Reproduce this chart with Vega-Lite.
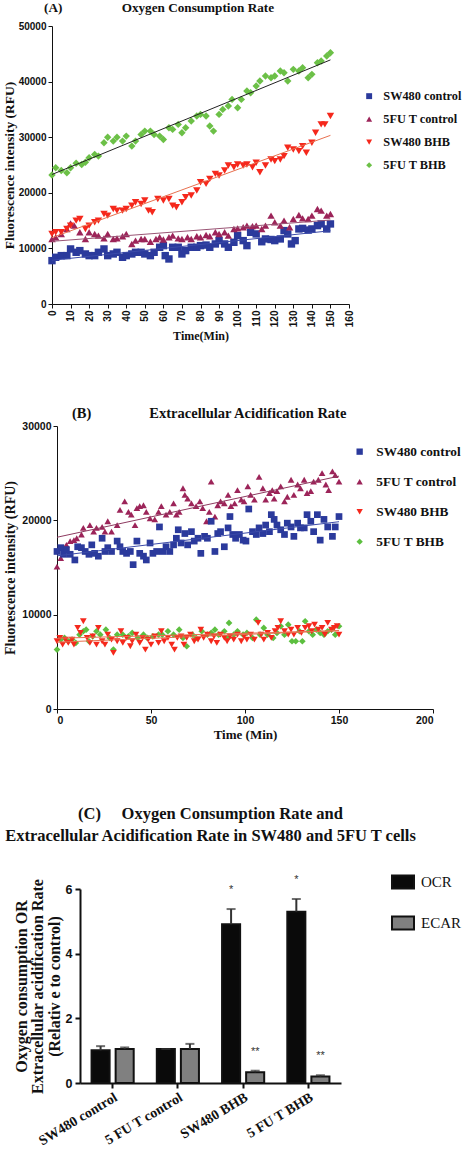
{
"$schema": "https://vega.github.io/schema/vega-lite/v6.json",
"padding": {"left": 2, "top": 0, "right": 0, "bottom": 0},
"background": "white",
"spacing": 63,
"resolve": {"scale": {"color": "independent", "shape": "independent", "stroke": "independent"}, "legend": {"color": "independent", "shape": "independent"}},
"config": {
  "view": {"stroke": null},
  "axis": {"grid": false, "domainColor": "#111", "tickColor": "#111", "labelColor": "#111", "titleColor": "#111", "labelFont": "Liberation Sans Narrow, Liberation Sans, Arial", "labelFontWeight": "bold", "titleFont": "Liberation Serif", "titleFontWeight": "bold"},
  "legend": {"labelFont": "Liberation Serif", "labelFontWeight": "bold", "labelColor": "#111", "labelLimit": 0},
  "title": {"font": "Liberation Serif", "fontWeight": "bold", "color": "#111"}
},
"datasets": {
"ocr": [
{"s":"SW480 control","t":0,"v":7800},{"s":"SW480 control","t":2,"v":8400},{"s":"SW480 control","t":5,"v":8700},{"s":"SW480 control","t":8,"v":8700},{"s":"SW480 control","t":10,"v":9900},{"s":"SW480 control","t":13,"v":9300},{"s":"SW480 control","t":15,"v":9600},{"s":"SW480 control","t":18,"v":9000},{"s":"SW480 control","t":20,"v":8700},{"s":"SW480 control","t":23,"v":8700},{"s":"SW480 control","t":25,"v":9300},{"s":"SW480 control","t":28,"v":9900},{"s":"SW480 control","t":30,"v":8700},{"s":"SW480 control","t":33,"v":9000},{"s":"SW480 control","t":35,"v":9300},{"s":"SW480 control","t":38,"v":8400},{"s":"SW480 control","t":40,"v":8700},{"s":"SW480 control","t":43,"v":9000},{"s":"SW480 control","t":45,"v":9300},{"s":"SW480 control","t":48,"v":9300},{"s":"SW480 control","t":50,"v":9000},{"s":"SW480 control","t":53,"v":8700},{"s":"SW480 control","t":55,"v":9300},{"s":"SW480 control","t":58,"v":10200},{"s":"SW480 control","t":60,"v":10500},{"s":"SW480 control","t":61,"v":8700},{"s":"SW480 control","t":63,"v":8100},{"s":"SW480 control","t":65,"v":10200},{"s":"SW480 control","t":68,"v":10200},{"s":"SW480 control","t":70,"v":9000},{"s":"SW480 control","t":72,"v":9600},{"s":"SW480 control","t":75,"v":10200},{"s":"SW480 control","t":78,"v":10200},{"s":"SW480 control","t":80,"v":10500},{"s":"SW480 control","t":83,"v":10600},{"s":"SW480 control","t":85,"v":10200},{"s":"SW480 control","t":88,"v":10800},{"s":"SW480 control","t":90,"v":11400},{"s":"SW480 control","t":93,"v":10800},{"s":"SW480 control","t":95,"v":10200},{"s":"SW480 control","t":98,"v":11100},{"s":"SW480 control","t":100,"v":12300},{"s":"SW480 control","t":103,"v":11400},{"s":"SW480 control","t":105,"v":10500},{"s":"SW480 control","t":107,"v":12900},{"s":"SW480 control","t":110,"v":12600},{"s":"SW480 control","t":113,"v":11200},{"s":"SW480 control","t":115,"v":11700},{"s":"SW480 control","t":118,"v":11600},{"s":"SW480 control","t":120,"v":11400},{"s":"SW480 control","t":123,"v":11700},{"s":"SW480 control","t":125,"v":13200},{"s":"SW480 control","t":127,"v":12600},{"s":"SW480 control","t":129,"v":10800},{"s":"SW480 control","t":131,"v":11400},{"s":"SW480 control","t":133,"v":13500},{"s":"SW480 control","t":135,"v":13600},{"s":"SW480 control","t":138,"v":13300},{"s":"SW480 control","t":140,"v":13500},{"s":"SW480 control","t":143,"v":14100},{"s":"SW480 control","t":145,"v":14400},{"s":"SW480 control","t":148,"v":13500},{"s":"SW480 control","t":150,"v":14400},
{"s":"5FU T control","t":0,"v":11700},{"s":"5FU T control","t":2,"v":12000},{"s":"5FU T control","t":5,"v":12600},{"s":"5FU T control","t":8,"v":13500},{"s":"5FU T control","t":10,"v":14500},{"s":"5FU T control","t":12,"v":14100},{"s":"5FU T control","t":15,"v":12900},{"s":"5FU T control","t":18,"v":11700},{"s":"5FU T control","t":20,"v":12900},{"s":"5FU T control","t":23,"v":12600},{"s":"5FU T control","t":25,"v":12300},{"s":"5FU T control","t":28,"v":11800},{"s":"5FU T control","t":30,"v":12600},{"s":"5FU T control","t":33,"v":11700},{"s":"5FU T control","t":35,"v":11800},{"s":"5FU T control","t":38,"v":12200},{"s":"5FU T control","t":40,"v":12600},{"s":"5FU T control","t":43,"v":10800},{"s":"5FU T control","t":45,"v":11400},{"s":"5FU T control","t":48,"v":11700},{"s":"5FU T control","t":50,"v":11700},{"s":"5FU T control","t":53,"v":11200},{"s":"5FU T control","t":56,"v":11700},{"s":"5FU T control","t":58,"v":12000},{"s":"5FU T control","t":60,"v":11600},{"s":"5FU T control","t":63,"v":12000},{"s":"5FU T control","t":65,"v":12300},{"s":"5FU T control","t":68,"v":11800},{"s":"5FU T control","t":70,"v":11700},{"s":"5FU T control","t":73,"v":12000},{"s":"5FU T control","t":75,"v":11700},{"s":"5FU T control","t":78,"v":12200},{"s":"5FU T control","t":80,"v":12000},{"s":"5FU T control","t":83,"v":12400},{"s":"5FU T control","t":85,"v":12200},{"s":"5FU T control","t":88,"v":12900},{"s":"5FU T control","t":90,"v":12600},{"s":"5FU T control","t":93,"v":12900},{"s":"5FU T control","t":95,"v":12300},{"s":"5FU T control","t":98,"v":13500},{"s":"5FU T control","t":100,"v":13600},{"s":"5FU T control","t":103,"v":13800},{"s":"5FU T control","t":105,"v":14100},{"s":"5FU T control","t":108,"v":14000},{"s":"5FU T control","t":110,"v":14100},{"s":"5FU T control","t":113,"v":13500},{"s":"5FU T control","t":115,"v":14100},{"s":"5FU T control","t":118,"v":15900},{"s":"5FU T control","t":120,"v":14700},{"s":"5FU T control","t":123,"v":14100},{"s":"5FU T control","t":125,"v":15000},{"s":"5FU T control","t":128,"v":13800},{"s":"5FU T control","t":130,"v":15300},{"s":"5FU T control","t":133,"v":16000},{"s":"5FU T control","t":135,"v":15400},{"s":"5FU T control","t":138,"v":15300},{"s":"5FU T control","t":140,"v":15900},{"s":"5FU T control","t":143,"v":17100},{"s":"5FU T control","t":145,"v":16800},{"s":"5FU T control","t":148,"v":15900},{"s":"5FU T control","t":150,"v":16200},
{"s":"SW480 BHB","t":0,"v":12600},{"s":"SW480 BHB","t":2,"v":12900},{"s":"SW480 BHB","t":5,"v":12900},{"s":"SW480 BHB","t":8,"v":13500},{"s":"SW480 BHB","t":10,"v":14100},{"s":"SW480 BHB","t":13,"v":15000},{"s":"SW480 BHB","t":15,"v":15300},{"s":"SW480 BHB","t":18,"v":13500},{"s":"SW480 BHB","t":20,"v":14100},{"s":"SW480 BHB","t":23,"v":14700},{"s":"SW480 BHB","t":25,"v":15000},{"s":"SW480 BHB","t":28,"v":16200},{"s":"SW480 BHB","t":30,"v":15900},{"s":"SW480 BHB","t":33,"v":17100},{"s":"SW480 BHB","t":35,"v":16800},{"s":"SW480 BHB","t":38,"v":16800},{"s":"SW480 BHB","t":40,"v":17100},{"s":"SW480 BHB","t":43,"v":17700},{"s":"SW480 BHB","t":45,"v":18300},{"s":"SW480 BHB","t":48,"v":18000},{"s":"SW480 BHB","t":50,"v":18600},{"s":"SW480 BHB","t":52,"v":16800},{"s":"SW480 BHB","t":54,"v":16500},{"s":"SW480 BHB","t":57,"v":18900},{"s":"SW480 BHB","t":60,"v":18600},{"s":"SW480 BHB","t":63,"v":18900},{"s":"SW480 BHB","t":65,"v":17700},{"s":"SW480 BHB","t":67,"v":17400},{"s":"SW480 BHB","t":70,"v":18300},{"s":"SW480 BHB","t":72,"v":19200},{"s":"SW480 BHB","t":75,"v":19500},{"s":"SW480 BHB","t":78,"v":20400},{"s":"SW480 BHB","t":80,"v":21900},{"s":"SW480 BHB","t":83,"v":21600},{"s":"SW480 BHB","t":85,"v":22500},{"s":"SW480 BHB","t":88,"v":23400},{"s":"SW480 BHB","t":90,"v":23100},{"s":"SW480 BHB","t":93,"v":24000},{"s":"SW480 BHB","t":95,"v":24900},{"s":"SW480 BHB","t":98,"v":24600},{"s":"SW480 BHB","t":100,"v":25100},{"s":"SW480 BHB","t":103,"v":24900},{"s":"SW480 BHB","t":105,"v":25100},{"s":"SW480 BHB","t":108,"v":24600},{"s":"SW480 BHB","t":110,"v":25400},{"s":"SW480 BHB","t":112,"v":23700},{"s":"SW480 BHB","t":115,"v":24900},{"s":"SW480 BHB","t":118,"v":26000},{"s":"SW480 BHB","t":120,"v":25700},{"s":"SW480 BHB","t":123,"v":26000},{"s":"SW480 BHB","t":125,"v":26600},{"s":"SW480 BHB","t":127,"v":28100},{"s":"SW480 BHB","t":130,"v":27800},{"s":"SW480 BHB","t":133,"v":27500},{"s":"SW480 BHB","t":135,"v":28400},{"s":"SW480 BHB","t":137,"v":27200},{"s":"SW480 BHB","t":140,"v":29000},{"s":"SW480 BHB","t":142,"v":30800},{"s":"SW480 BHB","t":145,"v":32300},{"s":"SW480 BHB","t":147,"v":32300},{"s":"SW480 BHB","t":150,"v":33800},
{"s":"5FU T BHB","t":0,"v":23200},{"s":"5FU T BHB","t":2,"v":24500},{"s":"5FU T BHB","t":5,"v":24000},{"s":"5FU T BHB","t":8,"v":23600},{"s":"5FU T BHB","t":10,"v":24500},{"s":"5FU T BHB","t":13,"v":25300},{"s":"5FU T BHB","t":16,"v":25100},{"s":"5FU T BHB","t":18,"v":25500},{"s":"5FU T BHB","t":20,"v":26300},{"s":"5FU T BHB","t":23,"v":26900},{"s":"5FU T BHB","t":25,"v":26600},{"s":"5FU T BHB","t":28,"v":29000},{"s":"5FU T BHB","t":30,"v":30000},{"s":"5FU T BHB","t":33,"v":29300},{"s":"5FU T BHB","t":35,"v":30000},{"s":"5FU T BHB","t":38,"v":29300},{"s":"5FU T BHB","t":40,"v":30200},{"s":"5FU T BHB","t":43,"v":28400},{"s":"5FU T BHB","t":45,"v":29300},{"s":"5FU T BHB","t":48,"v":30500},{"s":"5FU T BHB","t":50,"v":31100},{"s":"5FU T BHB","t":53,"v":31100},{"s":"5FU T BHB","t":55,"v":30500},{"s":"5FU T BHB","t":58,"v":30200},{"s":"5FU T BHB","t":60,"v":29600},{"s":"5FU T BHB","t":63,"v":31700},{"s":"5FU T BHB","t":65,"v":31400},{"s":"5FU T BHB","t":68,"v":32300},{"s":"5FU T BHB","t":70,"v":30800},{"s":"5FU T BHB","t":72,"v":31700},{"s":"5FU T BHB","t":75,"v":32900},{"s":"5FU T BHB","t":78,"v":33800},{"s":"5FU T BHB","t":80,"v":34100},{"s":"5FU T BHB","t":83,"v":33800},{"s":"5FU T BHB","t":85,"v":32000},{"s":"5FU T BHB","t":87,"v":31100},{"s":"5FU T BHB","t":90,"v":34100},{"s":"5FU T BHB","t":92,"v":35000},{"s":"5FU T BHB","t":95,"v":35600},{"s":"5FU T BHB","t":97,"v":36800},{"s":"5FU T BHB","t":100,"v":35300},{"s":"5FU T BHB","t":102,"v":36800},{"s":"5FU T BHB","t":105,"v":38300},{"s":"5FU T BHB","t":107,"v":38000},{"s":"5FU T BHB","t":110,"v":39200},{"s":"5FU T BHB","t":112,"v":40100},{"s":"5FU T BHB","t":115,"v":41000},{"s":"5FU T BHB","t":118,"v":40700},{"s":"5FU T BHB","t":120,"v":41000},{"s":"5FU T BHB","t":123,"v":41900},{"s":"5FU T BHB","t":125,"v":41600},{"s":"5FU T BHB","t":127,"v":40100},{"s":"5FU T BHB","t":130,"v":42200},{"s":"5FU T BHB","t":133,"v":41900},{"s":"5FU T BHB","t":135,"v":42500},{"s":"5FU T BHB","t":138,"v":40700},{"s":"5FU T BHB","t":140,"v":41300},{"s":"5FU T BHB","t":143,"v":43400},{"s":"5FU T BHB","t":145,"v":43700},{"s":"5FU T BHB","t":148,"v":44600},{"s":"5FU T BHB","t":150,"v":45200}
],
"ecar": [
{"s":"5FU T control","t":0,"v":15100},{"s":"5FU T control","t":2,"v":16000},{"s":"5FU T control","t":3.5,"v":17100},{"s":"5FU T control","t":5,"v":17400},{"s":"5FU T control","t":7,"v":17800},{"s":"5FU T control","t":9,"v":17900},{"s":"5FU T control","t":10.5,"v":18100},{"s":"5FU T control","t":13,"v":18500},{"s":"5FU T control","t":14,"v":19200},{"s":"5FU T control","t":17.5,"v":19500},{"s":"5FU T control","t":19.5,"v":18800},{"s":"5FU T control","t":21,"v":19200},{"s":"5FU T control","t":24,"v":19300},{"s":"5FU T control","t":25.5,"v":18800},{"s":"5FU T control","t":27,"v":19900},{"s":"5FU T control","t":29,"v":18800},{"s":"5FU T control","t":32,"v":19500},{"s":"5FU T control","t":33.5,"v":21100},{"s":"5FU T control","t":36,"v":22000},{"s":"5FU T control","t":38,"v":20900},{"s":"5FU T control","t":39.5,"v":20600},{"s":"5FU T control","t":41.5,"v":19500},{"s":"5FU T control","t":42.5,"v":21300},{"s":"5FU T control","t":44,"v":21500},{"s":"5FU T control","t":46,"v":21600},{"s":"5FU T control","t":47.5,"v":20900},{"s":"5FU T control","t":49.5,"v":20200},{"s":"5FU T control","t":52,"v":20100},{"s":"5FU T control","t":54,"v":20900},{"s":"5FU T control","t":55.5,"v":21500},{"s":"5FU T control","t":58,"v":20600},{"s":"5FU T control","t":60,"v":20900},{"s":"5FU T control","t":62,"v":21800},{"s":"5FU T control","t":63.5,"v":20600},{"s":"5FU T control","t":65,"v":20900},{"s":"5FU T control","t":67,"v":23400},{"s":"5FU T control","t":68,"v":22700},{"s":"5FU T control","t":69.5,"v":22300},{"s":"5FU T control","t":71.5,"v":21800},{"s":"5FU T control","t":74,"v":21500},{"s":"5FU T control","t":76,"v":22000},{"s":"5FU T control","t":77.5,"v":21300},{"s":"5FU T control","t":79.5,"v":19900},{"s":"5FU T control","t":81,"v":20900},{"s":"5FU T control","t":82,"v":24100},{"s":"5FU T control","t":84,"v":20400},{"s":"5FU T control","t":85.5,"v":21600},{"s":"5FU T control","t":87,"v":22000},{"s":"5FU T control","t":89,"v":21800},{"s":"5FU T control","t":91,"v":22700},{"s":"5FU T control","t":92.5,"v":21500},{"s":"5FU T control","t":94.5,"v":21800},{"s":"5FU T control","t":96,"v":23200},{"s":"5FU T control","t":98,"v":22200},{"s":"5FU T control","t":99.5,"v":22000},{"s":"5FU T control","t":101.5,"v":23600},{"s":"5FU T control","t":103,"v":22700},{"s":"5FU T control","t":105,"v":22200},{"s":"5FU T control","t":107.5,"v":24600},{"s":"5FU T control","t":109.5,"v":23400},{"s":"5FU T control","t":111,"v":22200},{"s":"5FU T control","t":113,"v":22900},{"s":"5FU T control","t":114.5,"v":23200},{"s":"5FU T control","t":115.5,"v":22300},{"s":"5FU T control","t":117,"v":23100},{"s":"5FU T control","t":119,"v":23600},{"s":"5FU T control","t":121,"v":22000},{"s":"5FU T control","t":122.5,"v":22500},{"s":"5FU T control","t":124.5,"v":24300},{"s":"5FU T control","t":126,"v":22700},{"s":"5FU T control","t":128,"v":23800},{"s":"5FU T control","t":129.5,"v":23400},{"s":"5FU T control","t":131.5,"v":24300},{"s":"5FU T control","t":133,"v":22900},{"s":"5FU T control","t":135,"v":23100},{"s":"5FU T control","t":136.5,"v":24100},{"s":"5FU T control","t":139,"v":24300},{"s":"5FU T control","t":141,"v":25000},{"s":"5FU T control","t":143,"v":23800},{"s":"5FU T control","t":144.5,"v":23200},{"s":"5FU T control","t":146.5,"v":25200},{"s":"5FU T control","t":148,"v":24800},{"s":"5FU T control","t":150,"v":24100},
{"s":"SW480 control","t":0,"v":16700},{"s":"SW480 control","t":2,"v":17100},{"s":"SW480 control","t":3.5,"v":16400},{"s":"SW480 control","t":5,"v":16900},{"s":"SW480 control","t":7,"v":16400},{"s":"SW480 control","t":9.5,"v":15800},{"s":"SW480 control","t":11,"v":17200},{"s":"SW480 control","t":13,"v":17100},{"s":"SW480 control","t":15,"v":16700},{"s":"SW480 control","t":17,"v":16400},{"s":"SW480 control","t":18.5,"v":17400},{"s":"SW480 control","t":20,"v":16500},{"s":"SW480 control","t":22,"v":16200},{"s":"SW480 control","t":24,"v":18100},{"s":"SW480 control","t":25.5,"v":16700},{"s":"SW480 control","t":27,"v":17100},{"s":"SW480 control","t":29,"v":16700},{"s":"SW480 control","t":32,"v":17800},{"s":"SW480 control","t":33.5,"v":17200},{"s":"SW480 control","t":35,"v":16700},{"s":"SW480 control","t":37,"v":16500},{"s":"SW480 control","t":39,"v":16700},{"s":"SW480 control","t":40.5,"v":15300},{"s":"SW480 control","t":42.5,"v":17800},{"s":"SW480 control","t":44,"v":16500},{"s":"SW480 control","t":46,"v":16200},{"s":"SW480 control","t":47.5,"v":15800},{"s":"SW480 control","t":49.5,"v":17600},{"s":"SW480 control","t":51,"v":16500},{"s":"SW480 control","t":53,"v":16700},{"s":"SW480 control","t":54.5,"v":19300},{"s":"SW480 control","t":56.5,"v":16700},{"s":"SW480 control","t":58,"v":17200},{"s":"SW480 control","t":60,"v":16700},{"s":"SW480 control","t":62,"v":17400},{"s":"SW480 control","t":63.5,"v":18100},{"s":"SW480 control","t":64.5,"v":19000},{"s":"SW480 control","t":66,"v":17600},{"s":"SW480 control","t":68,"v":18600},{"s":"SW480 control","t":69.5,"v":17400},{"s":"SW480 control","t":71.5,"v":18800},{"s":"SW480 control","t":73,"v":17800},{"s":"SW480 control","t":75,"v":18100},{"s":"SW480 control","t":76.5,"v":16500},{"s":"SW480 control","t":78.5,"v":18300},{"s":"SW480 control","t":80,"v":18100},{"s":"SW480 control","t":82,"v":19900},{"s":"SW480 control","t":84,"v":16700},{"s":"SW480 control","t":85.5,"v":18600},{"s":"SW480 control","t":87,"v":18800},{"s":"SW480 control","t":89,"v":17200},{"s":"SW480 control","t":91,"v":19200},{"s":"SW480 control","t":92,"v":20400},{"s":"SW480 control","t":93.5,"v":18500},{"s":"SW480 control","t":95,"v":18100},{"s":"SW480 control","t":97,"v":18500},{"s":"SW480 control","t":99,"v":17900},{"s":"SW480 control","t":100.5,"v":17800},{"s":"SW480 control","t":102,"v":21200},{"s":"SW480 control","t":104,"v":18800},{"s":"SW480 control","t":106,"v":18500},{"s":"SW480 control","t":107.5,"v":19200},{"s":"SW480 control","t":109.5,"v":18600},{"s":"SW480 control","t":111,"v":19500},{"s":"SW480 control","t":113,"v":18800},{"s":"SW480 control","t":114,"v":20600},{"s":"SW480 control","t":115.5,"v":20100},{"s":"SW480 control","t":117,"v":19500},{"s":"SW480 control","t":119,"v":19000},{"s":"SW480 control","t":121,"v":18500},{"s":"SW480 control","t":122.5,"v":19700},{"s":"SW480 control","t":124.5,"v":19300},{"s":"SW480 control","t":126,"v":18300},{"s":"SW480 control","t":128,"v":19700},{"s":"SW480 control","t":129.5,"v":19200},{"s":"SW480 control","t":131.5,"v":19200},{"s":"SW480 control","t":133,"v":20600},{"s":"SW480 control","t":135,"v":19900},{"s":"SW480 control","t":136.5,"v":18800},{"s":"SW480 control","t":138.5,"v":20600},{"s":"SW480 control","t":140,"v":17900},{"s":"SW480 control","t":142,"v":20100},{"s":"SW480 control","t":144,"v":19300},{"s":"SW480 control","t":146.5,"v":18300},{"s":"SW480 control","t":148,"v":19300},{"s":"SW480 control","t":150,"v":20400},
{"s":"5FU T BHB","t":0,"v":6300},{"s":"5FU T BHB","t":2,"v":7360},{"s":"5FU T BHB","t":4,"v":7530},{"s":"5FU T BHB","t":6,"v":7180},{"s":"5FU T BHB","t":8,"v":7360},{"s":"5FU T BHB","t":10,"v":7000},{"s":"5FU T BHB","t":12,"v":7880},{"s":"5FU T BHB","t":14,"v":8240},{"s":"5FU T BHB","t":15.5,"v":8410},{"s":"5FU T BHB","t":17,"v":7180},{"s":"5FU T BHB","t":19,"v":7700},{"s":"5FU T BHB","t":21,"v":8240},{"s":"5FU T BHB","t":23,"v":7880},{"s":"5FU T BHB","t":26,"v":8410},{"s":"5FU T BHB","t":28,"v":7530},{"s":"5FU T BHB","t":30,"v":6300},{"s":"5FU T BHB","t":32,"v":7880},{"s":"5FU T BHB","t":35,"v":7880},{"s":"5FU T BHB","t":38,"v":7700},{"s":"5FU T BHB","t":40,"v":8060},{"s":"5FU T BHB","t":43,"v":7530},{"s":"5FU T BHB","t":46,"v":7880},{"s":"5FU T BHB","t":48,"v":7530},{"s":"5FU T BHB","t":51,"v":7700},{"s":"5FU T BHB","t":54,"v":7880},{"s":"5FU T BHB","t":56,"v":7880},{"s":"5FU T BHB","t":59,"v":8240},{"s":"5FU T BHB","t":62,"v":7880},{"s":"5FU T BHB","t":65,"v":8410},{"s":"5FU T BHB","t":67,"v":7530},{"s":"5FU T BHB","t":69,"v":6650},{"s":"5FU T BHB","t":72,"v":7880},{"s":"5FU T BHB","t":74,"v":7530},{"s":"5FU T BHB","t":77,"v":8240},{"s":"5FU T BHB","t":80,"v":7880},{"s":"5FU T BHB","t":82,"v":8060},{"s":"5FU T BHB","t":84,"v":8410},{"s":"5FU T BHB","t":86,"v":7880},{"s":"5FU T BHB","t":89,"v":8240},{"s":"5FU T BHB","t":91,"v":7530},{"s":"5FU T BHB","t":91.5,"v":9120},{"s":"5FU T BHB","t":94,"v":7880},{"s":"5FU T BHB","t":96,"v":8240},{"s":"5FU T BHB","t":99,"v":7880},{"s":"5FU T BHB","t":101,"v":8060},{"s":"5FU T BHB","t":104,"v":7530},{"s":"5FU T BHB","t":106,"v":9470},{"s":"5FU T BHB","t":108,"v":7880},{"s":"5FU T BHB","t":110,"v":8590},{"s":"5FU T BHB","t":112,"v":7880},{"s":"5FU T BHB","t":115,"v":7530},{"s":"5FU T BHB","t":117,"v":8060},{"s":"5FU T BHB","t":119,"v":8770},{"s":"5FU T BHB","t":121,"v":7880},{"s":"5FU T BHB","t":123,"v":8940},{"s":"5FU T BHB","t":125,"v":7180},{"s":"5FU T BHB","t":127,"v":7180},{"s":"5FU T BHB","t":129,"v":8240},{"s":"5FU T BHB","t":130.5,"v":7180},{"s":"5FU T BHB","t":132,"v":9300},{"s":"5FU T BHB","t":134,"v":8240},{"s":"5FU T BHB","t":136,"v":7880},{"s":"5FU T BHB","t":138,"v":8410},{"s":"5FU T BHB","t":140,"v":8060},{"s":"5FU T BHB","t":142,"v":7880},{"s":"5FU T BHB","t":144,"v":8240},{"s":"5FU T BHB","t":146,"v":8410},{"s":"5FU T BHB","t":148,"v":7880},{"s":"5FU T BHB","t":150,"v":8770},
{"s":"SW480 BHB","t":0,"v":7180},{"s":"SW480 BHB","t":1.5,"v":7530},{"s":"SW480 BHB","t":3,"v":6830},{"s":"SW480 BHB","t":4.5,"v":7360},{"s":"SW480 BHB","t":6,"v":7000},{"s":"SW480 BHB","t":8,"v":7360},{"s":"SW480 BHB","t":9,"v":6830},{"s":"SW480 BHB","t":11,"v":8590},{"s":"SW480 BHB","t":12.5,"v":8060},{"s":"SW480 BHB","t":14,"v":9300},{"s":"SW480 BHB","t":16,"v":7530},{"s":"SW480 BHB","t":17.5,"v":7000},{"s":"SW480 BHB","t":19,"v":7700},{"s":"SW480 BHB","t":21,"v":6830},{"s":"SW480 BHB","t":22,"v":8590},{"s":"SW480 BHB","t":24,"v":7180},{"s":"SW480 BHB","t":25.5,"v":6830},{"s":"SW480 BHB","t":27,"v":7880},{"s":"SW480 BHB","t":29,"v":7360},{"s":"SW480 BHB","t":30,"v":5950},{"s":"SW480 BHB","t":32,"v":7180},{"s":"SW480 BHB","t":34,"v":8240},{"s":"SW480 BHB","t":35,"v":7000},{"s":"SW480 BHB","t":37,"v":7530},{"s":"SW480 BHB","t":39,"v":6650},{"s":"SW480 BHB","t":40,"v":7180},{"s":"SW480 BHB","t":42,"v":7880},{"s":"SW480 BHB","t":44,"v":7000},{"s":"SW480 BHB","t":45.5,"v":7530},{"s":"SW480 BHB","t":47,"v":6300},{"s":"SW480 BHB","t":48.5,"v":7360},{"s":"SW480 BHB","t":50,"v":6830},{"s":"SW480 BHB","t":52,"v":7700},{"s":"SW480 BHB","t":54,"v":7000},{"s":"SW480 BHB","t":55.5,"v":8240},{"s":"SW480 BHB","t":57,"v":7180},{"s":"SW480 BHB","t":59,"v":7530},{"s":"SW480 BHB","t":61,"v":6830},{"s":"SW480 BHB","t":62.5,"v":6300},{"s":"SW480 BHB","t":64,"v":7530},{"s":"SW480 BHB","t":66,"v":7700},{"s":"SW480 BHB","t":67.5,"v":6830},{"s":"SW480 BHB","t":69,"v":7530},{"s":"SW480 BHB","t":71,"v":7880},{"s":"SW480 BHB","t":73,"v":7180},{"s":"SW480 BHB","t":75,"v":7360},{"s":"SW480 BHB","t":76.5,"v":8410},{"s":"SW480 BHB","t":78,"v":7530},{"s":"SW480 BHB","t":80,"v":7880},{"s":"SW480 BHB","t":82,"v":7180},{"s":"SW480 BHB","t":83.5,"v":7700},{"s":"SW480 BHB","t":85,"v":7000},{"s":"SW480 BHB","t":87,"v":7880},{"s":"SW480 BHB","t":89,"v":7530},{"s":"SW480 BHB","t":90.5,"v":7180},{"s":"SW480 BHB","t":92,"v":7700},{"s":"SW480 BHB","t":94,"v":7360},{"s":"SW480 BHB","t":96,"v":7880},{"s":"SW480 BHB","t":98,"v":7180},{"s":"SW480 BHB","t":99.5,"v":7700},{"s":"SW480 BHB","t":101,"v":7360},{"s":"SW480 BHB","t":103,"v":7880},{"s":"SW480 BHB","t":105,"v":7360},{"s":"SW480 BHB","t":107,"v":9120},{"s":"SW480 BHB","t":108.5,"v":7880},{"s":"SW480 BHB","t":110,"v":7360},{"s":"SW480 BHB","t":112,"v":8060},{"s":"SW480 BHB","t":114,"v":7530},{"s":"SW480 BHB","t":116,"v":8240},{"s":"SW480 BHB","t":117.5,"v":8590},{"s":"SW480 BHB","t":119,"v":9300},{"s":"SW480 BHB","t":121,"v":8240},{"s":"SW480 BHB","t":123,"v":7880},{"s":"SW480 BHB","t":124.5,"v":8410},{"s":"SW480 BHB","t":126,"v":7880},{"s":"SW480 BHB","t":128,"v":8590},{"s":"SW480 BHB","t":130,"v":8060},{"s":"SW480 BHB","t":132,"v":8590},{"s":"SW480 BHB","t":134,"v":8770},{"s":"SW480 BHB","t":135.5,"v":8240},{"s":"SW480 BHB","t":137,"v":8940},{"s":"SW480 BHB","t":139,"v":8410},{"s":"SW480 BHB","t":141,"v":8590},{"s":"SW480 BHB","t":142.5,"v":7880},{"s":"SW480 BHB","t":144,"v":9120},{"s":"SW480 BHB","t":146,"v":8410},{"s":"SW480 BHB","t":147.5,"v":8590},{"s":"SW480 BHB","t":149,"v":8770},{"s":"SW480 BHB","t":150,"v":7880}
],
"bars": [
{"g":"SW480 control","m":"OCR","v":1.01,"hi":1.14,"sig":""},
{"g":"SW480 control","m":"ECAR","v":1.05,"hi":1.10,"sig":""},
{"g":"5 FU T control","m":"OCR","v":1.05,"hi":1.05,"sig":""},
{"g":"5 FU T control","m":"ECAR","v":1.05,"hi":1.21,"sig":""},
{"g":"SW480 BHB","m":"OCR","v":4.91,"hi":5.38,"sig":"*"},
{"g":"SW480 BHB","m":"ECAR","v":0.33,"hi":0.38,"sig":"**"},
{"g":"5 FU T BHB","m":"OCR","v":5.30,"hi":5.69,"sig":"*"},
{"g":"5 FU T BHB","m":"ECAR","v":0.20,"hi":0.24,"sig":"**"}
]
},
"vconcat": [
{
  "width": 297, "height": 278,
  "title": {"text": "(A)\u00a0\u00a0\u00a0\u00a0\u00a0\u00a0\u00a0\u00a0\u00a0\u00a0\u00a0\u00a0\u00a0\u00a0\u00a0\u00a0\u00a0\u00a0Oxygen Consumption Rate", "anchor": "start", "frame": "group", "dx": -36, "fontSize": 13.2, "offset": 6},
  "data": {"name": "ocr"},
  "encoding": {
    "x": {"field": "t", "type": "quantitative", "scale": {"domain": [0, 160], "range": [-28, 269]}, "axis": {"values": [0,10,20,30,40,50,60,70,80,90,100,110,120,130,140,150,160], "format": "d", "labelOverlap": false, "labelAngle": -90, "labelAlign": "right", "labelBaseline": "middle", "labelFontSize": 10, "labelPadding": 2, "tickSize": 4, "title": "Time(Min)", "titleFontSize": 12, "titlePadding": 4}},
    "y": {"field": "v", "type": "quantitative", "scale": {"domain": [0, 50000]}, "axis": {"values": [0,10000,20000,30000,40000,50000], "format": "d", "offset": 28, "labelFontSize": 10, "labelPadding": 2, "tickSize": 4, "title": "Fluorescence intensity (RFU)", "titleFontSize": 13.5, "titlePadding": 2}}
  },
  "layer": [
    {
      "mark": {"type": "point", "filled": true, "opacity": 1, "size": 55},
      "encoding": {
        "color": {"field": "s", "type": "nominal", "scale": {"domain": ["SW480 control","5FU T control","SW480 BHB","5FU T BHB"], "range": ["#2b3a9c","#9c2459","#f5281c","#6cc047"]}, "legend": {"title": null, "orient": "none", "legendX": 283, "legendY": 64, "labelFontSize": 12.3, "rowPadding": 10, "symbolSize": 35, "symbolStrokeWidth": 0, "padding": 0, "labelOffset": 8}},
        "shape": {"field": "s", "type": "nominal", "scale": {"domain": ["SW480 control","5FU T control","SW480 BHB","5FU T BHB"], "range": ["square","triangle-up","triangle-down","diamond"]}, "legend": {"title": null, "orient": "none", "legendX": 283, "legendY": 64, "labelFontSize": 12.3, "rowPadding": 10, "symbolSize": 35, "symbolStrokeWidth": 0, "padding": 0, "labelOffset": 8}}
      }
    },
    {
      "transform": [{"regression": "v", "on": "t", "groupby": ["s"]}],
      "mark": {"type": "line", "strokeWidth": 1},
      "encoding": {
        "stroke": {"field": "s", "type": "nominal", "scale": {"domain": ["SW480 control","5FU T control","SW480 BHB","5FU T BHB"], "range": ["#3b4aa8","#9a5575","#e8704f","#222222"]}, "legend": null}
      }
    }
  ]
},
{
  "width": 376, "height": 283,
  "title": {"text": "(B)\u00a0\u00a0\u00a0\u00a0\u00a0\u00a0\u00a0\u00a0\u00a0\u00a0\u00a0\u00a0\u00a0\u00a0\u00a0\u00a0Extracellular Acidification Rate", "anchor": "start", "frame": "group", "dx": -8, "fontSize": 14.5, "offset": 0},
  "data": {"name": "ecar"},
  "encoding": {
    "x": {"field": "t", "type": "quantitative", "scale": {"domain": [0, 200], "range": [-23, 353]}, "axis": {"values": [0,50,100,150,200], "format": "d", "labelAngle": 0, "labelFontSize": 10.5, "tickSize": 4, "title": "Time (Min)", "titleFontSize": 13, "titlePadding": 3}},
    "y": {"field": "v", "type": "quantitative", "scale": {"domain": [0, 30000]}, "axis": {"values": [0,10000,20000,30000], "format": "d", "offset": 23, "labelFontSize": 10.5, "labelPadding": 2, "tickSize": 4, "title": "Fluorescence intensity (RFU)", "titleFontSize": 14, "titlePadding": 4}}
  },
  "layer": [
    {
      "mark": {"type": "point", "filled": true, "opacity": 1, "size": 45},
      "encoding": {
        "color": {"field": "s", "type": "nominal", "scale": {"domain": ["SW480 control","5FU T control","SW480 BHB","5FU T BHB"], "range": ["#2b3a9c","#9c2459","#f5281c","#5cbf3f"]}, "legend": {"title": null, "orient": "none", "legendX": 273, "legendY": 19, "labelFontSize": 13.3, "rowPadding": 16, "symbolSize": 40, "symbolStrokeWidth": 0, "padding": 0, "labelOffset": 10}},
        "shape": {"field": "s", "type": "nominal", "scale": {"domain": ["SW480 control","5FU T control","SW480 BHB","5FU T BHB"], "range": ["square","triangle-up","triangle-down","diamond"]}, "legend": {"title": null, "orient": "none", "legendX": 273, "legendY": 19, "labelFontSize": 13.3, "rowPadding": 16, "symbolSize": 40, "symbolStrokeWidth": 0, "padding": 0, "labelOffset": 10}}
      }
    },
    {
      "transform": [{"regression": "v", "on": "t", "groupby": ["s"]}],
      "mark": {"type": "line", "strokeWidth": 1},
      "encoding": {
        "stroke": {"field": "s", "type": "nominal", "scale": {"domain": ["SW480 control","5FU T control","SW480 BHB","5FU T BHB"], "range": ["#3b4aa8","#8e3a60","#e8704f","#e8704f"]}, "legend": null}
      }
    }
  ]
},
{
  "width": 261, "height": 194,
  "title": {"text": ["(C)\u00a0\u00a0\u00a0\u00a0 Oxygen Consumption Rate and\u00a0\u00a0\u00a0\u00a0\u00a0\u00a0\u00a0\u00a0\u00a0\u00a0", "Extracellular Acidification Rate in SW480 and 5FU T cells"], "anchor": "middle", "frame": "group", "fontSize": 16.5, "lineHeight": 22, "offset": 26},
  "data": {"name": "bars"},
  "encoding": {
    "x": {"field": "g", "type": "nominal", "sort": null, "scale": {"paddingInner": 0, "paddingOuter": 0}, "axis": {"title": null, "labelAngle": -31, "labelFont": "Liberation Serif", "labelFontSize": 14, "labelFontWeight": "bold", "tickSize": 5, "tickWidth": 2, "domainWidth": 2, "labelPadding": 2}},
    "xOffset": {"field": "m", "type": "nominal", "sort": ["OCR","ECAR"], "scale": {"paddingInner": 0.25, "paddingOuter": 0.48}}
  },
  "layer": [
    {
      "mark": {"type": "bar", "stroke": "#111", "strokeWidth": 2},
      "encoding": {
        "y": {"field": "v", "type": "quantitative", "scale": {"domain": [0, 6]}, "axis": {"values": [0,2,4,6], "format": "d", "labelFontSize": 12.5, "tickSize": 5, "tickWidth": 2, "domainWidth": 2, "labelPadding": 3, "title": ["Oxygen consumption OR", "Extracellular acidification Rate", "(Relativ e to control)"], "titleFontSize": 16, "titleLineHeight": 16.5, "titlePadding": 3}},
        "color": {"field": "m", "type": "nominal", "scale": {"domain": ["OCR","ECAR"], "range": ["#0a0a0a","#808080"]}, "legend": {"title": null, "orient": "none", "legendX": 311, "legendY": -19, "symbolType": "M-1,-0.6H1V0.6H-1Z", "symbolSize": 484, "symbolStrokeColor": "#111", "symbolStrokeWidth": 2, "symbolOpacity": 1, "labelFont": "Liberation Serif", "labelFontWeight": "normal", "labelFontSize": 15, "rowPadding": 18, "padding": 0, "labelOffset": 6}}
      }
    },
    {
      "mark": {"type": "rule", "color": "#333", "strokeWidth": 2},
      "encoding": {"y": {"field": "v", "type": "quantitative"}, "y2": {"field": "hi"}}
    },
    {
      "mark": {"type": "tick", "color": "#333", "thickness": 2, "size": 9},
      "encoding": {"y": {"field": "hi", "type": "quantitative"}}
    },
    {
      "mark": {"type": "text", "dy": -19, "font": "Liberation Sans", "fontSize": 11, "color": "#333", "baseline": "middle"},
      "encoding": {"y": {"field": "hi", "type": "quantitative"}, "text": {"field": "sig"}}
    }
  ]
}
]
}
